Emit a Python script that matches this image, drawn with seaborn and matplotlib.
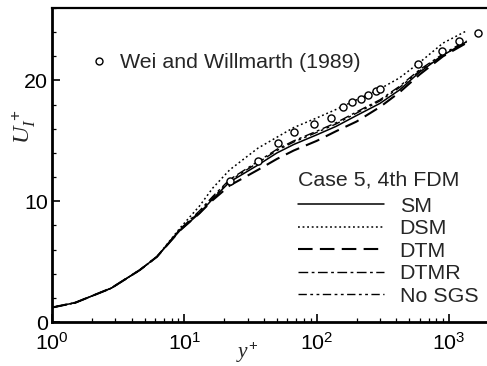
import numpy as np
import pandas as pd
import seaborn as sns
import matplotlib
matplotlib.use("Agg")
import matplotlib.pyplot as plt
from matplotlib.lines import Line2D
from matplotlib.ticker import LogLocator, MultipleLocator, FixedLocator, NullFormatter

# ---- data ----
y_plus = [1, 1.5, 2.8, 4.6, 6.2, 9.3, 13, 16.4, 22, 36, 50, 67, 100, 140, 200, 300, 420, 600, 900, 1350]
u_sm = [1.2, 1.6, 2.8, 4.3, 5.4, 7.6, 9.0, 10.2, 11.6, 13.0, 14.0, 14.7, 15.5, 16.2, 17.1, 18.1, 19.2, 20.7, 22.1, 23.2]
u_dsm = [1.2, 1.6, 2.8, 4.3, 5.4, 7.8, 9.6, 11.1, 12.6, 14.4, 15.3, 16.1, 16.9, 17.6, 18.4, 19.3, 20.2, 21.5, 23.1, 24.1]
u_dtm = [1.2, 1.6, 2.8, 4.3, 5.4, 7.6, 9.0, 10.1, 11.3, 12.6, 13.5, 14.2, 15.0, 15.8, 16.6, 17.8, 19.0, 20.5, 22.0, 23.1]
u_dtmr = [1.2, 1.6, 2.8, 4.3, 5.4, 7.7, 9.2, 10.4, 11.8, 13.3, 14.3, 15.0, 15.8, 16.5, 17.4, 18.4, 19.5, 20.9, 22.2, 23.3]
u_nosgs = [1.2, 1.6, 2.8, 4.3, 5.4, 7.7, 9.1, 10.3, 11.7, 13.2, 14.2, 14.9, 15.7, 16.4, 17.3, 18.3, 19.4, 20.8, 22.1, 23.2]

exp_y = [22, 36, 51, 67, 95, 128, 157, 186, 214, 243, 279, 299, 579, 878, 1190, 1640]
exp_u = [11.7, 13.3, 14.8, 15.7, 16.4, 16.9, 17.8, 18.2, 18.5, 18.8, 19.1, 19.3, 21.4, 22.4, 23.3, 23.9]

series_names = ["SM", "DSM", "DTM", "DTMR", "No SGS"]
series_vals = [u_sm, u_dsm, u_dtm, u_dtmr, u_nosgs]
legend_title = "Case 5, 4th FDM"
exp_label = "Wei and Willmarth (1989)"
x_ticks = [1, 10, 100, 1000]
x_ticklabels = [r"$\mathregular{10^{0}}$", r"$\mathregular{10^{1}}$", r"$\mathregular{10^{2}}$", r"$\mathregular{10^{3}}$"]
y_ticks = [0, 10, 20]

# ---- style ----
sns.set_theme(style="ticks")
plt.rcParams["font.family"] = ["Liberation Sans", "DejaVu Sans"]
plt.rcParams["mathtext.fontset"] = "custom"
plt.rcParams["mathtext.rm"] = "Liberation Sans"
plt.rcParams["mathtext.it"] = "Liberation Serif:italic"
plt.rcParams["mathtext.bf"] = "Liberation Sans:bold"

FS = 15.4
styles = {
    "SM": "-",
    "DSM": (0, (1.2, 1.8)),
    "DTM": (0, (7, 3.5)),
    "DTMR": (0, (7, 2.5, 2, 2.5)),
    "No SGS": (0, (6, 2.5, 2, 2.5, 2, 2.5)),
}
widths = {"SM": 1.1, "DSM": 1.1, "DTM": 1.5, "DTMR": 1.0, "No SGS": 1.0}

fig = plt.figure(figsize=(4.87, 3.66), dpi=100)
ax = fig.add_axes([52 / 487, 44 / 366, 437 / 487, 314 / 366])

handles = []
for name, vals in zip(series_names, series_vals):
    df = pd.DataFrame({"y": y_plus, "u": vals})
    sns.lineplot(data=df, x="y", y="u", ax=ax, color="black", linewidth=widths[name],
                 linestyle=styles[name], legend=False, sort=False)
    handles.append(Line2D([], [], color="black", linewidth=widths[name], linestyle=styles[name], label=name))

dfe = pd.DataFrame({"y": exp_y, "u": exp_u})
sns.scatterplot(data=dfe, x="y", y="u", ax=ax, marker="o", s=26, facecolor="white",
                edgecolor="black", linewidth=1.0, zorder=5, legend=False)

ax.set_xscale("log")
ax.set_xlim(1, 2000)
ax.set_ylim(0, 26)

ax.xaxis.set_major_locator(FixedLocator(x_ticks))
ax.set_xticklabels(x_ticklabels)
ax.xaxis.set_minor_locator(LogLocator(base=10, subs=np.arange(2, 10)))
ax.xaxis.set_minor_formatter(NullFormatter())
ax.yaxis.set_major_locator(FixedLocator(y_ticks))
ax.yaxis.set_minor_locator(MultipleLocator(2))

ax.tick_params(which="both", direction="in", top=False, right=False, colors="black",
               labelsize=FS)
ax.tick_params(which="major", length=6, width=1.2)
ax.tick_params(axis="x", which="major", pad=7)
ax.tick_params(axis="y", which="major", pad=3)
ax.tick_params(which="minor", length=3, width=0.9)

for s in ax.spines.values():
    s.set_linewidth(2.0)
    s.set_color("black")
ax.spines["top"].set_linewidth(1.6)

ax.set_xlabel(r"$y^{+}$", fontsize=FS)
ax.xaxis.label.set_va("center")
ax.xaxis.set_label_coords((247 - 52) / 437, (322 - 353) / 314)
ax.set_ylabel(r"$U_I^{\,+}$", fontsize=FS + 2)
ax.yaxis.label.set_va("center")
ax.yaxis.set_label_coords((24 - 52) / 437, (322 - 127) / 314)

# experiment legend
exp_handle = Line2D([], [], marker="o", markersize=5, markerfacecolor="white",
                    markeredgecolor="black", linestyle="none", markeredgewidth=1.0)
leg1 = ax.legend([exp_handle], [exp_label], loc="center left",
                 bbox_to_anchor=(88 / 487, 1 - 63 / 366), bbox_transform=fig.transFigure,
                 frameon=False, fontsize=FS, handlelength=1.0, handletextpad=0.5,
                 borderpad=0, borderaxespad=0)
ax.add_artist(leg1)

leg2 = ax.legend(handles=handles, title=legend_title, loc="upper left",
                 bbox_to_anchor=(298 / 487, 1 - 171 / 366), bbox_transform=fig.transFigure,
                 frameon=False, fontsize=FS, title_fontsize=FS, handlelength=4.0,
                 handletextpad=0.75, labelspacing=0.16, borderpad=0, borderaxespad=0,
                 alignment="left")
leg2._legend_box.sep = 5

fig.savefig("out.png", dpi=100)
